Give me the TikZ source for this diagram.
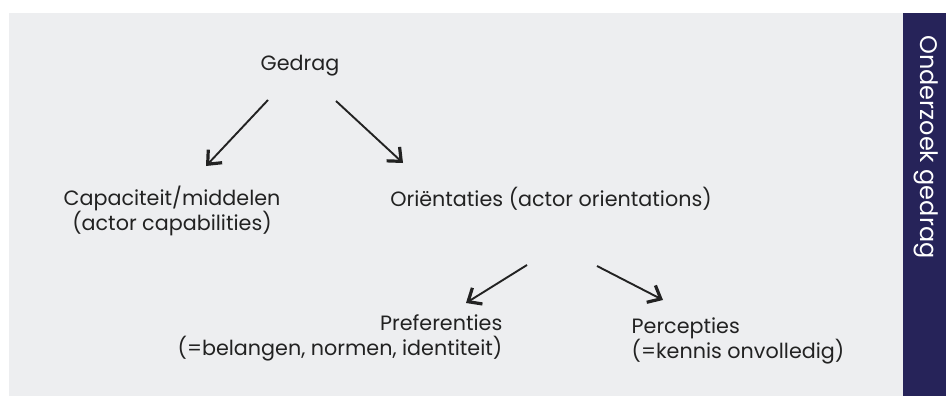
\documentclass[tikz,border=0pt]{standalone}
\usepackage{fontspec}
\setmainfont{Poppins}
\usepackage{tikz}
\usetikzlibrary{arrows.meta,positioning}
\definecolor{ogpanel}{RGB}{237,238,240}
\definecolor{ognavy}{RGB}{38,35,89}
\definecolor{oginks}{RGB}{34,34,34}
\tikzset{
  lbl/.style={inner sep=0pt, text=oginks, font=\fontsize{20.7}{25}\selectfont},
  arr/.style={-{Straight Barb[length=11pt,width=19pt,line width=3.2pt]}, line width=1.9pt, oginks}
}

\begin{document}
\begin{tikzpicture}[x=1pt,y=-1pt]
\useasboundingbox (0,0) rectangle (946,396);
% Panels
\fill[ogpanel] (9,13) rectangle (903,396);
\fill[ognavy] (903,13) rectangle (946,396);
\node[lbl, text=white, rotate=-90, font=\fontsize{24}{28}\selectfont] (side) at (926,147) {Onderzoek gedrag};
% Labels
\node[lbl] (gedrag) at (300,66) {Gedrag};
\node[lbl, align=center] (capac) at (172,211) {Capaciteit/middelen\\(actor capabilities)};
\node[lbl] (orient) at (551,199) {Oriëntaties (actor orientations)};
\node[lbl, align=right] (pref) at (340,338) {Preferenties\\(=belangen, normen, identiteit)};
\node[lbl, align=left] (percep) at (738,341) {Percepties\\(=kennis onvolledig)};
% Arrows
\draw[arr] ([shift={(-32,34)}]gedrag.center) -- ([shift={(34,-45)}]capac.center);
\draw[arr] ([shift={(36,35)}]gedrag.center) -- ([shift={(-148,-36)}]orient.center);
\draw[arr] ([shift={(-24,66)}]orient.center) -- ([shift={(126,-35)}]pref.center);
\draw[arr] ([shift={(46,67)}]orient.center) -- ([shift={(-75,-41)}]percep.center);
\end{tikzpicture}
\end{document}
